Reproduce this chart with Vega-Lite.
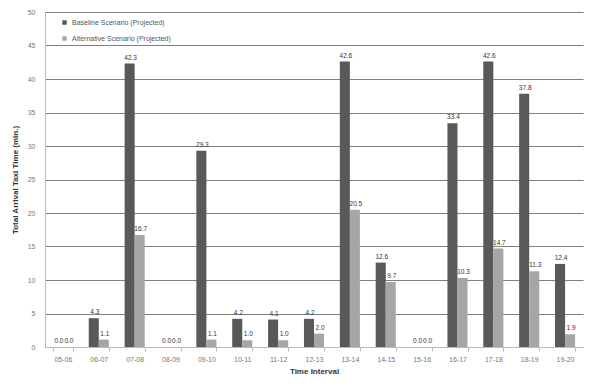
{
  "$schema": "https://vega.github.io/schema/vega-lite/v6.json",
  "width": 538,
  "height": 335,
  "autosize": "none",
  "padding": {"left": 45, "top": 12, "right": 12, "bottom": 39},
  "background": "white",
  "config": {
    "view": {"stroke": null},
    "font": "Liberation Sans",
    "axis": {"labelFont": "Liberation Sans", "titleFont": "Liberation Sans"}
  },
  "data": {
    "values": [
      {"interval": "05-06", "scenario": "Baseline Scenario (Projected)", "value": 0.0},
      {"interval": "05-06", "scenario": "Alternative Scenario (Projected)", "value": 0.0},
      {"interval": "06-07", "scenario": "Baseline Scenario (Projected)", "value": 4.3},
      {"interval": "06-07", "scenario": "Alternative Scenario (Projected)", "value": 1.1},
      {"interval": "07-08", "scenario": "Baseline Scenario (Projected)", "value": 42.3},
      {"interval": "07-08", "scenario": "Alternative Scenario (Projected)", "value": 16.7},
      {"interval": "08-09", "scenario": "Baseline Scenario (Projected)", "value": 0.0},
      {"interval": "08-09", "scenario": "Alternative Scenario (Projected)", "value": 0.0},
      {"interval": "09-10", "scenario": "Baseline Scenario (Projected)", "value": 29.3},
      {"interval": "09-10", "scenario": "Alternative Scenario (Projected)", "value": 1.1},
      {"interval": "10-11", "scenario": "Baseline Scenario (Projected)", "value": 4.2},
      {"interval": "10-11", "scenario": "Alternative Scenario (Projected)", "value": 1.0},
      {"interval": "11-12", "scenario": "Baseline Scenario (Projected)", "value": 4.1},
      {"interval": "11-12", "scenario": "Alternative Scenario (Projected)", "value": 1.0},
      {"interval": "12-13", "scenario": "Baseline Scenario (Projected)", "value": 4.2},
      {"interval": "12-13", "scenario": "Alternative Scenario (Projected)", "value": 2.0},
      {"interval": "13-14", "scenario": "Baseline Scenario (Projected)", "value": 42.6},
      {"interval": "13-14", "scenario": "Alternative Scenario (Projected)", "value": 20.5},
      {"interval": "14-15", "scenario": "Baseline Scenario (Projected)", "value": 12.6},
      {"interval": "14-15", "scenario": "Alternative Scenario (Projected)", "value": 9.7},
      {"interval": "15-16", "scenario": "Baseline Scenario (Projected)", "value": 0.0},
      {"interval": "15-16", "scenario": "Alternative Scenario (Projected)", "value": 0.0},
      {"interval": "16-17", "scenario": "Baseline Scenario (Projected)", "value": 33.4},
      {"interval": "16-17", "scenario": "Alternative Scenario (Projected)", "value": 10.3},
      {"interval": "17-18", "scenario": "Baseline Scenario (Projected)", "value": 42.6},
      {"interval": "17-18", "scenario": "Alternative Scenario (Projected)", "value": 14.7},
      {"interval": "18-19", "scenario": "Baseline Scenario (Projected)", "value": 37.8},
      {"interval": "18-19", "scenario": "Alternative Scenario (Projected)", "value": 11.3},
      {"interval": "19-20", "scenario": "Baseline Scenario (Projected)", "value": 12.4},
      {"interval": "19-20", "scenario": "Alternative Scenario (Projected)", "value": 1.9}
    ]
  },
  "encoding": {
    "x": {
      "field": "interval",
      "type": "nominal",
      "sort": null,
      "scale": {"paddingInner": 0.44, "paddingOuter": 0.22},
      "axis": {
        "title": "Time Interval",
        "titleFontSize": 8,
        "titleFontWeight": "bold",
        "titleColor": "#333",
        "titlePadding": 5,
        "labelAngle": 0,
        "labelFontSize": 7,
        "labelColor": "#777",
        "domainColor": "#bbb",
        "tickColor": "#bbb",
        "tickBand": "extent",
        "tickSize": 4,
        "labelPadding": 4
      }
    },
    "xOffset": {
      "field": "scenario",
      "type": "nominal",
      "sort": ["Baseline Scenario (Projected)", "Alternative Scenario (Projected)"],
      "scale": {"paddingInner": 0, "paddingOuter": 0}
    },
    "y": {
      "field": "value",
      "type": "quantitative",
      "scale": {"domain": [0, 50]},
      "axis": {
        "title": "Total Arrival Taxi Time (min.)",
        "titleFontSize": 8,
        "titleFontWeight": "bold",
        "titleColor": "#333",
        "titlePadding": 8,
        "values": [0, 5, 10, 15, 20, 25, 30, 35, 40, 45, 50],
        "labelFontSize": 7,
        "labelColor": "#777",
        "grid": true,
        "gridColor": "#808080",
        "gridWidth": 1,
        "domain": true,
        "domainColor": "#bbb",
        "ticks": false,
        "labelPadding": 10
      }
    }
  },
  "layer": [
    {
      "mark": {"type": "bar"},
      "encoding": {
        "color": {
          "field": "scenario",
          "type": "nominal",
          "sort": ["Baseline Scenario (Projected)", "Alternative Scenario (Projected)"],
          "scale": {"range": ["#595959", "#a6a6a6"]},
          "legend": {
            "title": null,
            "orient": "none",
            "legendX": 16,
            "legendY": 7,
            "labelFontSize": 7,
            "labelColor": "#555",
            "symbolType": "square",
            "symbolSize": 20,
            "rowPadding": 8,
            "fillColor": "white"
          }
        }
      }
    },
    {
      "mark": {"type": "text", "dy": -6, "dx": 1, "fontSize": 6.5, "color": "#333"},
      "encoding": {
        "text": {"field": "value", "type": "quantitative", "format": ".1f"}
      }
    }
  ]
}
